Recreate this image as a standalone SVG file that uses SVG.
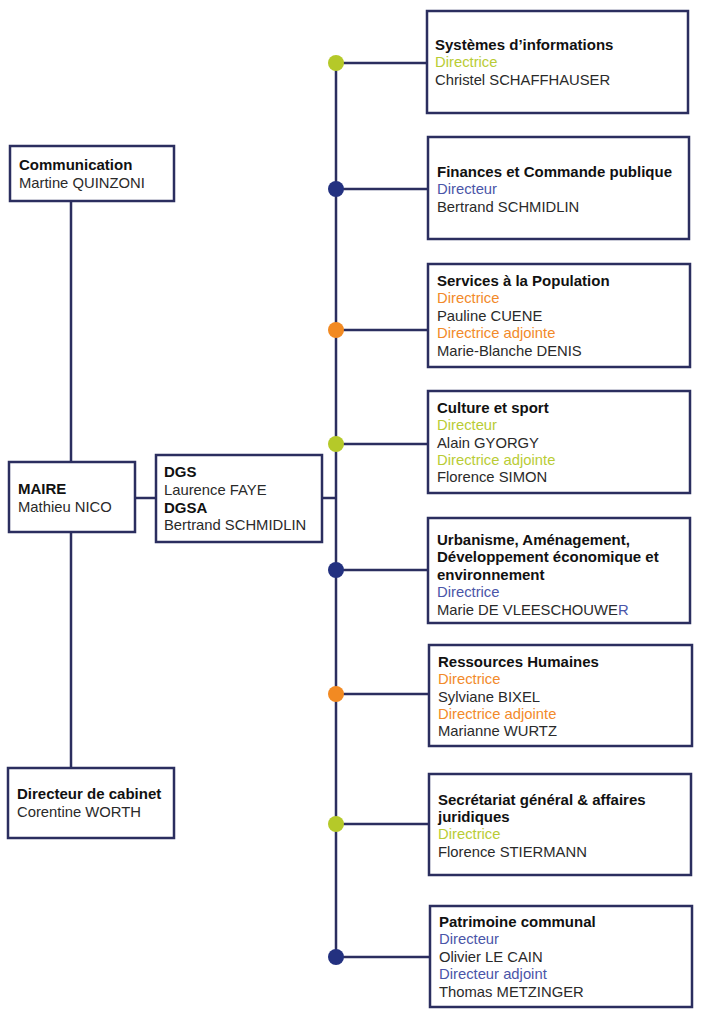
<svg xmlns="http://www.w3.org/2000/svg" width="724" height="1024" viewBox="0 0 724 1024">
<style>
.box{fill:#fff;stroke:#2b2e5f;stroke-width:2.5}
.ln{stroke:#2b2e5f;stroke-width:2.5;fill:none}
text{font-family:"Liberation Sans",Arial,sans-serif;font-size:14.8px;fill:#2a2a2a}
.t{font-weight:bold;fill:#111;font-size:15px}
.g{fill:#b9cc35}
.o{fill:#f28a2a}
.b{fill:#4a55a8}
.dg{fill:#b5c929}
.dn{fill:#233180}
.do{fill:#f28a22}
</style>
<rect width="724" height="1024" fill="#fff"/>
<g id="connectors">
<line class="ln" x1="71" y1="201" x2="71" y2="462"/>
<line class="ln" x1="71" y1="532" x2="71" y2="768"/>
<line class="ln" x1="135" y1="498" x2="156" y2="498"/>
<line class="ln" x1="322" y1="498" x2="336" y2="498"/>
<line class="ln" x1="336" y1="63" x2="336" y2="957"/>
<line class="ln" x1="336" y1="63" x2="427" y2="63"/>
<line class="ln" x1="336" y1="189" x2="428" y2="189"/>
<line class="ln" x1="336" y1="330" x2="428" y2="330"/>
<line class="ln" x1="336" y1="444" x2="428" y2="444"/>
<line class="ln" x1="336" y1="570" x2="428" y2="570"/>
<line class="ln" x1="336" y1="694" x2="429" y2="694"/>
<line class="ln" x1="336" y1="824" x2="429" y2="824"/>
<line class="ln" x1="336" y1="957" x2="430" y2="957"/>
<circle class="dg" cx="336" cy="63" r="8"/>
<circle class="dn" cx="336" cy="189" r="8"/>
<circle class="do" cx="336" cy="330" r="8"/>
<circle class="dg" cx="336" cy="444" r="8"/>
<circle class="dn" cx="336" cy="570" r="8"/>
<circle class="do" cx="336" cy="694" r="8"/>
<circle class="dg" cx="336" cy="824" r="8"/>
<circle class="dn" cx="336" cy="957" r="8"/>
</g>
<g id="communication">
<rect class="box" x="10" y="146" width="164" height="55"/>
<text class="t" x="19" y="170">Communication</text>
<text x="19" y="188">Martine QUINZONI</text>
</g>
<g id="maire">
<rect class="box" x="9" y="462" width="126" height="70"/>
<text class="t" x="18" y="494">MAIRE</text>
<text x="18" y="512">Mathieu NICO</text>
</g>
<g id="dgs">
<rect class="box" x="156" y="455" width="166" height="87"/>
<text class="t" x="164" y="477">DGS</text>
<text x="164" y="495">Laurence FAYE</text>
<text class="t" x="164" y="513">DGSA</text>
<text x="164" y="530">Bertrand SCHMIDLIN</text>
</g>
<g id="cabinet">
<rect class="box" x="8" y="768" width="166" height="70"/>
<text class="t" x="17" y="799">Directeur de cabinet</text>
<text x="17" y="817">Corentine WORTH</text>
</g>
<g id="systemes">
<rect class="box" x="427" y="11" width="261" height="102"/>
<text class="t" x="435" y="50">Systèmes d’informations</text>
<text class="g" x="435" y="67">Directrice</text>
<text x="435" y="85">Christel SCHAFFHAUSER</text>
</g>
<g id="finances">
<rect class="box" x="428" y="137" width="261" height="102"/>
<text class="t" x="437" y="177">Finances et Commande publique</text>
<text class="b" x="437" y="194">Directeur</text>
<text x="437" y="212">Bertrand SCHMIDLIN</text>
</g>
<g id="population">
<rect class="box" x="428" y="264" width="262" height="103"/>
<text class="t" x="437" y="286">Services à la Population</text>
<text class="o" x="437" y="303">Directrice</text>
<text x="437" y="321">Pauline CUENE</text>
<text class="o" x="437" y="338">Directrice adjointe</text>
<text x="437" y="356">Marie-Blanche DENIS</text>
</g>
<g id="culture">
<rect class="box" x="428" y="391" width="262" height="102"/>
<text class="t" x="437" y="413">Culture et sport</text>
<text class="g" x="437" y="430">Directeur</text>
<text x="437" y="448">Alain GYORGY</text>
<text class="g" x="437" y="465">Directrice adjointe</text>
<text x="437" y="482">Florence SIMON</text>
</g>
<g id="urbanisme">
<rect class="box" x="428" y="518" width="262" height="105"/>
<text class="t" x="437" y="545">Urbanisme, Aménagement,</text>
<text class="t" x="437" y="562">Développement économique et</text>
<text class="t" x="437" y="580">environnement</text>
<text class="b" x="437" y="597">Directrice</text>
<text x="437" y="615">Marie DE VLEESCHOUWE<tspan class="b">R</tspan></text>
</g>
<g id="rh">
<rect class="box" x="429" y="645" width="263" height="101"/>
<text class="t" x="438" y="667">Ressources Humaines</text>
<text class="o" x="438" y="684">Directrice</text>
<text x="438" y="702">Sylviane BIXEL</text>
<text class="o" x="438" y="719">Directrice adjointe</text>
<text x="438" y="736">Marianne WURTZ</text>
</g>
<g id="secretariat">
<rect class="box" x="429" y="774" width="262" height="101"/>
<text class="t" x="438" y="805">Secrétariat général &amp; affaires</text>
<text class="t" x="438" y="822">juridiques</text>
<text class="g" x="438" y="839">Directrice</text>
<text x="438" y="857">Florence STIERMANN</text>
</g>
<g id="patrimoine">
<rect class="box" x="430" y="906" width="262" height="101"/>
<text class="t" x="439" y="927">Patrimoine communal</text>
<text class="b" x="439" y="944">Directeur</text>
<text x="439" y="962">Olivier LE CAIN</text>
<text class="b" x="439" y="979">Directeur adjoint</text>
<text x="439" y="997">Thomas METZINGER</text>
</g>
</svg>
